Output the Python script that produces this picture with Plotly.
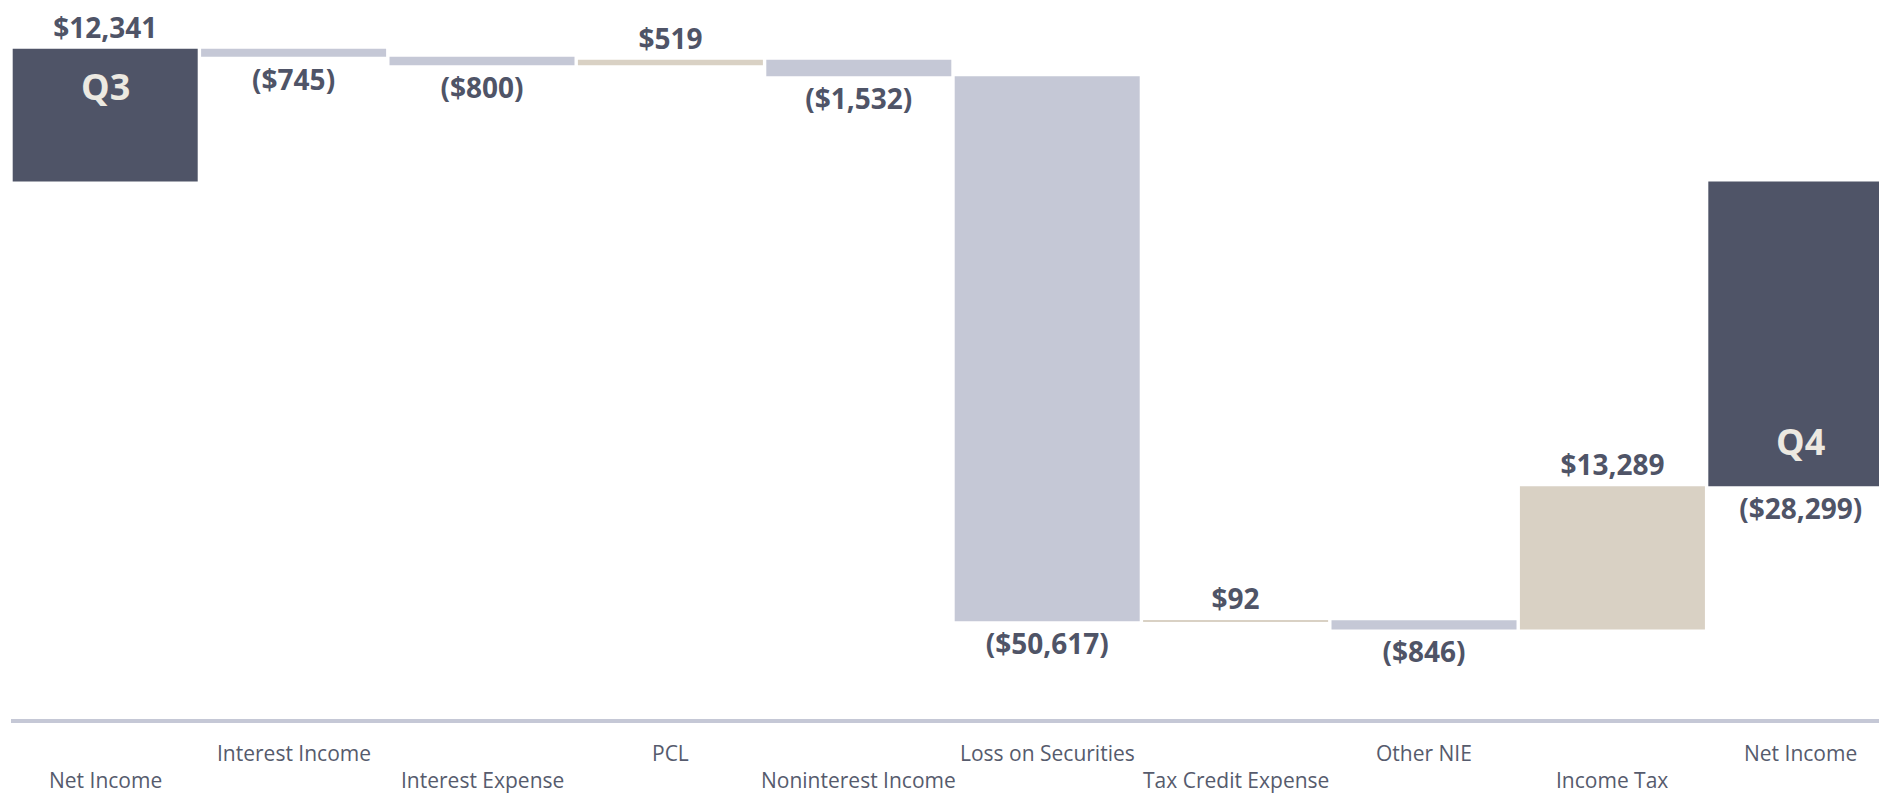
import plotly.graph_objects as go

# ---- data ----
categories = ["Net Income", "Interest Income", "Interest Expense", "PCL",
              "Noninterest Income", "Loss on Securities", "Tax Credit Expense",
              "Other NIE", "Income Tax", "Net Income"]
measures = ["absolute", "relative", "relative", "relative", "relative",
            "relative", "relative", "relative", "relative", "total"]
changes = [12341, -745, -800, 519, -1532, -50617, 92, -846, 13289, None]
period_labels = ["Q3", None, None, None, None, None, None, None, None, "Q4"]

DARK = "#4f5467"
LIGHT = "#c5c8d6"
TAN = "#d9d1c4"
CREAM = "#ece9e1"
TEXT = "#4f5467"
FONT = "Open Sans"

def fmt(v):
    return f"${v:,.0f}" if v >= 0 else f"(${-v:,.0f})"

xs, bases, heights, colors, texts = [], [], [], [], []
running = 0
for i, (m, v) in enumerate(zip(measures, changes)):
    if m == "absolute":
        base, h = 0, v
        running = v
        col = DARK
    elif m == "total":
        base, h = 0, running
        col = DARK
    else:
        base, h = running, v
        running += v
        col = TAN if v > 0 else LIGHT
    xs.append(i)
    bases.append(base)
    heights.append(h)
    colors.append(col)
    texts.append(fmt(h))

fig = go.Figure()
fig.add_trace(go.Bar(
    x=xs, y=heights, base=bases, width=0.982,
    marker=dict(color=colors, line=dict(width=0)),
    text=texts, textposition="outside", constraintext="none", cliponaxis=False,
    textfont=dict(family=FONT, size=28, color=TEXT, weight="bold"),
    hoverinfo="skip", showlegend=False,
))

annotations = []
# category labels, staggered in two rows
for i, c in enumerate(categories):
    annotations.append(dict(
        x=i, xref="x", y=(-0.047 if i % 2 == 1 else -0.086), yref="paper",
        text=c, showarrow=False, yanchor="middle", xanchor="center",
        font=dict(family=FONT, size=21, color="#565b6d"),
    ))
# period labels inside total bars
for i, lab in enumerate(period_labels):
    if lab:
        end = bases[i] + heights[i]
        annotations.append(dict(
            x=i, xref="x", y=end, yref="y", text=lab, showarrow=False,
            yanchor="middle", xanchor="center",
            yshift=(-38 if heights[i] > 0 else 45),
            font=dict(family=FONT, size=36, color=CREAM, weight="bold"),
        ))

fig.update_layout(
    width=1879, height=795,
    margin=dict(l=11, r=0, t=20, b=75),
    paper_bgcolor="white", plot_bgcolor="white",
    barmode="overlay",
    xaxis=dict(range=[-0.5, 9.415], visible=False, fixedrange=True),
    yaxis=dict(range=[-50000, 15000], visible=False, fixedrange=True),
    annotations=annotations,
    shapes=[dict(type="line", xref="paper", yref="paper", x0=0, x1=1,
                 y0=-0.0015, y1=-0.0015, line=dict(color=LIGHT, width=4))],
)

fig.write_html("out.html")
